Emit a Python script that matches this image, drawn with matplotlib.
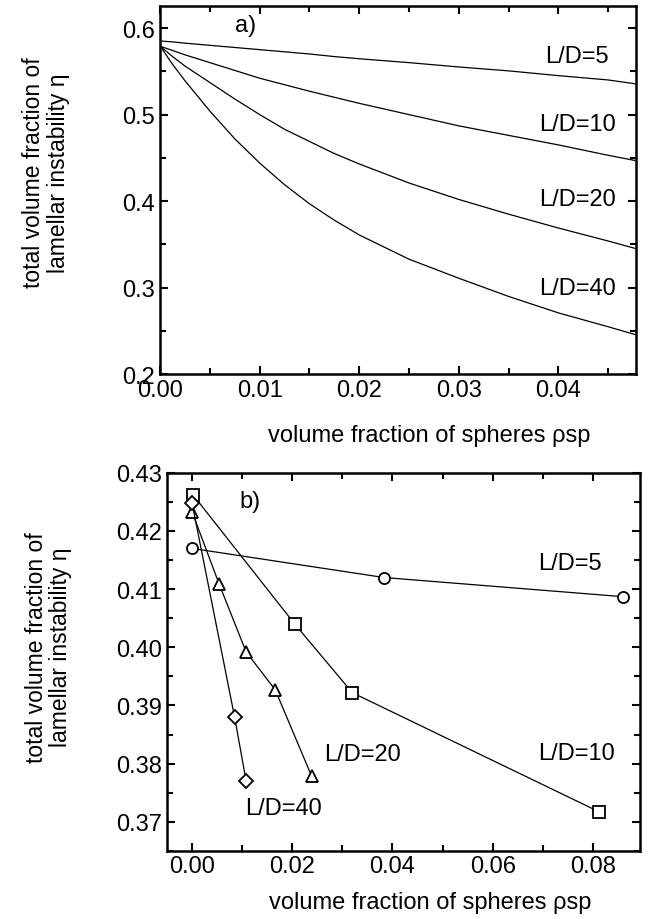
import numpy as np
import matplotlib
matplotlib.use("Agg")
import matplotlib.pyplot as plt
from matplotlib.ticker import MultipleLocator, FormatStrFormatter

plt.rcParams['font.family'] = ['Liberation Sans', 'DejaVu Sans']

# panel a) : theory curves
x_a = [0.0, 0.00125, 0.0025, 0.005, 0.0075, 0.01, 0.0125, 0.015, 0.0175, 0.02, 0.025,
       0.03, 0.035, 0.04, 0.045, 0.0477]
eta_a_5 = [0.585, 0.584, 0.5825, 0.580, 0.5775, 0.575, 0.5725, 0.570, 0.567, 0.5645, 0.560,
           0.555, 0.5505, 0.545, 0.540, 0.5356]
eta_a_10 = [0.579, 0.574, 0.569, 0.560, 0.551, 0.542, 0.5345, 0.527, 0.520, 0.513, 0.500,
            0.487, 0.476, 0.465, 0.453, 0.447]
eta_a_20 = [0.579, 0.567, 0.556, 0.537, 0.518, 0.500, 0.483, 0.469, 0.455, 0.443, 0.421,
            0.402, 0.385, 0.369, 0.354, 0.3455]
eta_a_40 = [0.579, 0.558, 0.539, 0.504, 0.472, 0.444, 0.419, 0.397, 0.378, 0.361, 0.333,
            0.311, 0.290, 0.271, 0.255, 0.246]
labels_a = ["L/D=5", "L/D=10", "L/D=20", "L/D=40"]
label_a_y = [0.568, 0.489, 0.4025, 0.2995]

# panel b) : simulation points
x_b_5 = [0.0, 0.0383, 0.0861]
eta_b_5 = [0.417, 0.412, 0.4087]
x_b_10 = [0.0002, 0.0205, 0.0320, 0.0813]
eta_b_10 = [0.4262, 0.4040, 0.3922, 0.3717]
x_b_20 = [0.0, 0.0054, 0.0108, 0.0166, 0.0239]
eta_b_20 = [0.4233, 0.4109, 0.3992, 0.3927, 0.3778]
x_b_40 = [0.0, 0.0085, 0.0108]
eta_b_40 = [0.4248, 0.3880, 0.3770]

fig = plt.figure(figsize=(6.51, 9.2), dpi=100)
ax1 = fig.add_axes([0.246, 0.592, 0.731, 0.400])
ax2 = fig.add_axes([0.2565, 0.074, 0.7265, 0.411])

ylab = "total volume fraction of\nlamellar instability \u03b7"
xlab = "volume fraction of spheres \u03c1sp"
fs_txt = 17

for ys in [eta_a_5, eta_a_10, eta_a_20, eta_a_40]:
    ax1.plot(x_a, ys, color="black", lw=0.9)
for lab, yy in zip(labels_a, label_a_y):
    ax1.text(0.0419, yy, lab, ha="center", va="center", fontsize=fs_txt)
ax1.text(0.0086, 0.603, "a)", ha="center", va="center", fontsize=fs_txt)
ax1.set_xlim(0, 0.0478)
ax1.set_ylim(0.2, 0.625)
ax1.xaxis.set_major_locator(MultipleLocator(0.01))
ax1.xaxis.set_minor_locator(MultipleLocator(0.005))
ax1.yaxis.set_major_locator(MultipleLocator(0.1))
ax1.yaxis.set_minor_locator(MultipleLocator(0.05))
ax1.xaxis.set_major_formatter(FormatStrFormatter("%.2f"))
ax1.yaxis.set_major_formatter(FormatStrFormatter("%.1f"))

mk = dict(color="black", lw=0.9, markerfacecolor="white", markeredgecolor="black",
          markeredgewidth=1.3, markersize=8)
ax2.plot(x_b_5, eta_b_5, marker="o", **mk)
ax2.plot(x_b_10, eta_b_10, marker="s", **mk)
ax2.plot(x_b_20, eta_b_20, marker="^", **mk)
ax2.plot(x_b_40, eta_b_40, marker="D", **dict(mk, markersize=7))
ax2.text(0.0755, 0.4145, "L/D=5", ha="center", va="center", fontsize=fs_txt)
ax2.text(0.0768, 0.3819, "L/D=10", ha="center", va="center", fontsize=fs_txt)
ax2.text(0.0340, 0.3816, "L/D=20", ha="center", va="center", fontsize=fs_txt)
ax2.text(0.0183, 0.3723, "L/D=40", ha="center", va="center", fontsize=fs_txt)
ax2.text(0.0116, 0.4252, "b)", ha="center", va="center", fontsize=fs_txt)
ax2.set_xlim(-0.005, 0.0894)
ax2.set_ylim(0.365, 0.43)
ax2.xaxis.set_major_locator(MultipleLocator(0.02))
ax2.xaxis.set_minor_locator(MultipleLocator(0.01))
ax2.yaxis.set_major_locator(MultipleLocator(0.01))
ax2.yaxis.set_minor_locator(MultipleLocator(0.005))
ax2.xaxis.set_major_formatter(FormatStrFormatter("%.2f"))
ax2.yaxis.set_major_formatter(FormatStrFormatter("%.2f"))

for ax in [ax1, ax2]:
    for sp in ax.spines.values():
        sp.set_linewidth(1.8)
    ax.tick_params(which="both", direction="in", top=True, right=True, width=1.5,
                   labelsize=17)
    ax.tick_params(which="major", length=6)
    ax.tick_params(which="minor", length=4)
    ax.tick_params(axis="x", pad=3)
    ax.set_ylabel(ylab, fontsize=16.5, linespacing=1.1)
    ax.set_xlabel(xlab, fontsize=17)

ax1.xaxis.set_label_coords(0.565, -0.135)
ax2.xaxis.set_label_coords(0.556, -0.105)
ax1.yaxis.set_label_coords(-0.19, 0.55)
ax2.yaxis.set_label_coords(-0.2, 0.54)

fig.savefig("out.png", dpi=100)
